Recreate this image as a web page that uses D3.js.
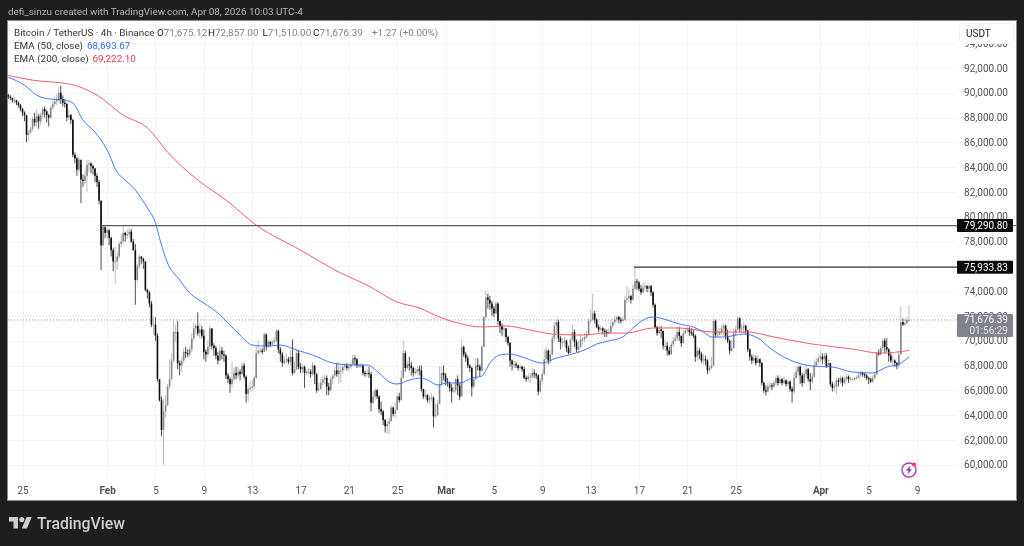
<!DOCTYPE html>
<html><head><meta charset="utf-8">
<script src="https://cdn.jsdelivr.net/npm/d3@7"></script>
<style>
html,body{margin:0;padding:0;background:#1e1e1e;overflow:hidden}
svg{display:block;filter:blur(.35px)}
text{font-family:Roboto,"Open Sans",sans-serif}
</style></head><body><svg id="c" width="1024" height="546"></svg>
<script>
// Candle values in thousands of USDT, one per 4h bar
const firstOpen = 89.8;
const closes = [
89.68,89.6,89.4,89.4,89.2,89.0,88.7,88.4,88.2,86.6,
86.8,87.1,87.9,87.6,88.1,87.7,88.2,88.7,88.5,88.2,
88.0,88.8,89.1,89.3,89.4,90.0,89.5,89.2,89.1,88.0,
88.2,87.8,85.0,84.7,83.8,84.6,83.0,82.9,83.3,84.2,
84.3,84.1,83.9,83.3,82.8,81.3,77.7,79.2,78.7,78.9,
78.3,77.3,76.4,76.4,76.8,77.8,78.0,78.7,78.5,78.6,
78.8,78.0,77.3,74.9,76.0,76.8,76.6,76.4,74.1,73.9,
73.0,71.3,71.3,70.4,66.9,65.2,62.8,64.3,64.8,66.3,
66.9,68.4,70.7,70.7,68.2,68.0,68.4,69.1,69.0,68.9,
69.3,70.2,71.0,71.2,70.6,70.9,70.4,69.1,68.9,69.5,
71.0,69.6,69.4,68.8,68.4,69.2,68.9,68.8,67.2,66.9,
66.5,66.9,67.4,67.2,67.5,67.3,68.0,67.1,65.7,66.1,
66.2,66.3,67.0,69.0,69.2,69.2,69.1,70.5,69.5,69.9,
69.7,69.9,70.0,70.8,69.3,68.9,68.2,68.4,68.5,68.3,
68.7,67.4,67.7,69.0,67.9,67.7,67.9,67.4,67.5,67.5,
67.3,68.0,67.3,66.0,66.1,66.6,66.9,67.0,66.3,66.0,
66.9,67.2,67.6,67.3,67.6,67.6,67.9,68.0,67.8,67.9,
68.1,68.6,68.5,68.0,68.0,68.0,67.4,67.3,67.4,67.3,
65.0,65.5,66.0,65.5,64.5,64.3,63.6,63.1,63.3,63.5,
64.6,64.1,64.4,65.5,65.2,67.0,69.0,67.8,68.1,68.0,
67.8,67.4,67.5,67.7,67.6,66.1,65.5,65.6,65.2,65.4,
65.4,63.9,64.0,64.9,66.5,67.4,67.2,66.7,66.6,66.2,
65.9,66.0,66.9,66.4,65.5,69.5,68.9,68.6,68.0,67.8,
66.3,66.9,68.0,67.9,67.6,69.5,71.9,73.5,73.3,73.0,
72.6,72.2,73.0,71.6,71.2,70.9,71.0,70.3,69.8,68.4,
68.1,68.1,68.0,67.8,67.9,67.7,67.0,66.9,67.1,67.1,
67.4,67.3,67.2,65.9,66.8,67.3,68.5,69.2,68.4,68.9,
70.2,71.2,71.5,70.2,69.9,69.9,70.0,69.4,69.0,70.1,
70.7,69.9,69.3,69.5,70.1,70.1,70.3,70.5,71.6,71.7,
72.2,71.7,71.1,70.9,71.0,70.8,70.7,70.6,70.7,71.2,
71.5,71.7,71.9,71.7,71.6,71.7,73.3,73.4,73.6,73.3,
74.2,74.8,74.7,74.2,73.9,74.3,74.4,74.2,74.4,73.9,
72.9,71.1,70.6,70.9,70.8,69.6,69.6,69.2,68.9,69.7,
70.0,70.2,70.7,70.4,69.8,70.6,70.8,70.9,70.7,70.6,
70.4,68.7,69.2,68.9,68.4,68.5,68.4,67.6,67.8,68.0,
71.6,70.5,70.5,70.7,71.0,71.2,70.4,70.0,69.2,69.4,
70.6,70.9,71.8,71.0,71.0,71.2,70.8,69.3,68.7,68.4,
68.6,68.2,68.5,68.2,66.6,66.0,65.9,66.3,66.4,66.3,
66.6,67.0,66.6,66.9,66.6,66.8,66.5,66.7,66.1,65.9,
67.0,67.5,67.9,67.2,66.6,67.3,67.7,66.9,66.7,67.1,
68.0,68.3,68.6,68.7,68.5,68.8,67.9,68.2,66.5,66.2,
66.3,66.8,66.7,67.0,66.6,66.9,67.1,66.9,66.9,66.9,
67.0,67.0,67.2,67.4,67.3,67.2,67.0,66.9,66.7,67.0,
67.3,69.0,68.9,69.4,70.0,69.5,69.3,68.8,68.4,68.4,
68.2,68.0,68.9,71.5,71.3,71.4,71.675,71.676];
const highs = [
89.9,89.8,89.6,89.6,89.4,89.3,89.1,88.8,88.5,88.2,
87.0,87.3,88.0,88.4,88.6,88.3,88.4,88.9,88.9,88.6,
88.3,89.0,89.4,89.7,89.9,90.5,90.6,89.8,89.5,89.2,
88.6,88.3,87.9,85.2,84.8,84.8,84.2,83.4,83.8,84.6,
84.6,84.4,84.2,83.9,83.5,82.96,81.3,79.3,79.0,79.1,
79.0,78.4,77.5,77.6,77.1,78.0,78.6,79.2,78.8,79.0,
79.1,79.0,78.2,77.8,76.2,77.0,76.8,76.7,76.2,74.2,
74.0,73.2,71.9,71.9,70.6,66.9,65.5,65.3,65.6,66.5,
68.5,69.0,71.7,71.3,71.6,68.4,68.7,69.4,69.5,69.3,
69.6,70.6,71.5,71.4,72.3,71.4,71.2,70.9,69.3,70.0,
71.2,70.9,69.8,69.6,69.1,69.6,69.5,69.2,68.9,67.4,
67.1,68.3,67.8,67.9,67.9,67.7,68.3,68.2,67.2,66.4,
66.7,66.8,67.2,69.6,70.0,69.4,69.4,70.7,70.6,70.1,
70.0,70.1,70.3,70.9,70.9,69.5,69.1,68.7,69.0,68.7,
69.2,70.1,68.3,69.3,69.2,68.2,68.1,68.0,67.7,67.8,
67.7,68.3,68.0,67.4,66.6,66.9,67.2,67.3,67.2,66.6,
67.1,67.3,67.9,68.2,68.3,68.0,68.2,68.2,68.2,68.1,
68.3,68.9,68.8,68.6,68.2,68.2,68.1,67.6,67.7,67.9,
67.5,65.9,66.2,66.1,65.6,65.1,64.4,63.7,63.5,63.8,
64.8,64.7,65.0,65.6,65.8,67.6,70.0,69.2,68.4,68.7,
68.3,67.9,67.8,67.9,68.0,68.0,66.1,66.0,65.7,65.6,
65.8,65.5,64.9,65.2,67.9,67.9,68.0,67.4,67.0,66.7,
66.5,66.3,67.0,67.2,66.6,70.1,69.6,69.1,68.8,68.1,
67.9,67.1,68.6,68.6,68.1,69.7,72.0,74.0,73.8,73.6,
73.2,72.8,73.2,73.1,71.6,71.4,71.2,71.0,70.4,69.9,
68.5,68.4,68.3,68.1,68.1,68.0,67.9,67.2,67.3,67.4,
67.8,67.7,67.4,67.3,67.0,67.6,69.3,69.5,69.3,69.2,
70.4,71.5,71.7,71.7,70.4,70.2,70.3,70.1,69.6,70.2,
71.3,70.9,70.1,70.0,70.5,70.3,70.6,70.8,71.8,72.5,
73.8,72.4,71.8,71.3,71.2,71.1,71.0,70.9,71.0,71.5,
71.8,72.0,72.0,72.0,71.9,71.9,73.6,74.4,74.2,73.7,
74.5,75.93,75.0,74.8,74.5,74.7,74.7,74.5,74.6,74.5,
74.0,73.0,71.2,71.2,71.2,70.8,70.1,69.9,69.5,69.9,
70.3,70.5,71.1,71.1,70.4,70.9,71.0,71.1,71.1,71.0,
70.9,70.5,69.5,69.4,69.1,68.9,68.8,68.5,68.0,68.7,
71.8,71.7,70.9,71.0,71.3,71.4,71.3,70.9,70.1,70.1,
71.0,71.2,72.0,71.9,71.4,71.5,71.3,70.9,69.4,68.9,
68.9,68.8,68.8,68.6,68.3,66.7,66.4,66.6,66.7,66.6,
66.8,67.2,67.2,67.1,67.0,67.1,66.9,66.9,66.8,66.3,
67.4,67.9,68.0,68.0,67.4,67.6,68.1,67.8,67.4,67.4,
68.4,68.6,68.9,69.2,69.0,69.0,69.0,68.5,68.2,66.7,
66.6,67.0,67.0,67.2,67.1,67.1,67.3,67.2,67.1,67.0,
67.1,67.2,67.4,67.6,67.5,67.4,67.3,67.1,67.0,67.2,
67.5,69.1,69.3,69.6,70.2,70.2,70.2,69.4,69.0,68.8,
68.5,68.3,69.2,72.74,71.8,71.8,71.9,72.857];
const lows = [
89.5,89.4,89.2,89.1,89.0,88.8,88.5,88.1,87.7,86.0,
86.1,86.7,86.9,87.3,87.2,87.1,87.4,87.9,88.0,87.6,
87.3,87.9,88.6,88.9,89.0,89.2,89.1,88.9,88.8,87.7,
87.8,87.5,84.8,84.3,83.3,83.6,81.1,82.4,82.6,82.0,
83.6,83.5,83.4,82.8,82.4,81.0,75.7,77.6,78.3,78.2,
77.7,76.8,75.6,74.6,75.7,76.6,77.5,77.9,78.0,78.2,
78.3,77.9,77.3,72.9,74.7,75.8,76.2,75.8,74.0,73.4,
72.7,71.1,70.5,70.0,66.7,65.1,62.3,60.0,63.8,64.7,
66.1,66.8,68.3,69.9,67.7,67.2,67.5,68.2,68.6,68.7,
68.7,69.1,70.0,70.5,70.4,70.2,70.2,68.5,68.3,68.7,
69.2,69.3,68.8,68.5,68.1,68.4,68.5,68.3,66.9,66.6,
65.8,66.2,66.7,66.9,67.0,66.8,67.3,66.9,65.0,65.1,
65.9,66.0,66.1,66.9,68.8,69.0,68.9,69.1,69.2,69.4,
69.5,69.6,69.7,69.9,69.0,68.3,67.9,68.1,68.2,68.1,
68.0,67.2,67.3,67.6,67.7,67.4,67.4,66.2,67.2,67.3,
67.0,67.2,66.5,65.8,65.9,66.0,66.4,66.5,65.6,65.6,
65.9,66.5,67.0,67.1,66.5,66.6,67.3,67.6,67.6,67.5,
67.7,68.0,68.0,67.8,67.8,67.8,67.2,67.1,67.1,67.0,
64.3,64.9,65.2,65.3,64.2,64.0,63.2,62.6,62.5,62.5,
63.5,63.9,63.8,64.4,65.0,65.2,67.0,67.5,67.7,67.6,
67.2,67.1,67.2,67.3,67.2,65.9,65.3,65.3,65.0,64.9,
65.1,63.0,63.8,63.9,64.9,66.3,66.8,66.4,66.3,65.9,
65.0,65.7,65.8,65.6,65.2,65.6,68.7,68.3,67.8,67.5,
65.5,66.1,66.8,67.6,67.1,67.5,69.5,71.8,72.6,72.5,
72.0,71.9,72.2,71.3,70.6,70.4,70.3,69.9,69.6,67.9,
67.6,67.8,67.8,67.6,67.7,67.5,66.9,66.7,66.7,66.6,
66.9,67.0,66.9,65.6,65.8,66.5,67.2,68.4,68.1,68.2,
68.8,70.0,70.6,69.9,69.3,69.5,69.6,69.1,68.9,69.0,
70.0,69.5,69.1,69.0,69.4,69.7,69.9,70.2,70.4,71.4,
71.6,71.4,71.0,70.7,70.8,70.5,70.3,70.3,70.5,70.6,
71.0,71.3,71.5,71.4,71.4,71.5,71.6,73.0,73.1,73.0,
73.2,74.1,74.1,74.0,73.7,73.8,74.0,73.9,73.9,73.6,
72.7,71.0,70.4,70.5,70.2,69.3,69.2,68.8,68.8,68.9,
69.5,69.9,70.0,70.0,69.5,69.8,70.5,70.6,70.4,70.4,
70.2,68.3,68.4,68.5,68.2,68.1,68.0,67.3,67.4,67.7,
67.9,70.3,70.2,70.4,70.5,70.4,70.1,69.8,68.9,69.1,
69.4,70.4,70.8,70.7,70.6,70.6,70.5,69.1,68.4,68.1,
68.2,68.0,68.2,67.9,66.4,65.8,65.6,65.8,66.1,66.0,
66.2,66.4,66.4,66.5,66.4,66.5,66.3,66.3,65.9,65.0,
65.7,66.9,67.2,66.5,66.3,66.5,67.0,66.7,66.0,66.5,
67.0,67.9,68.1,68.3,68.1,68.1,67.8,67.9,66.3,65.9,
65.9,65.7,66.3,66.5,66.3,66.5,66.7,66.6,66.8,66.8,
66.8,66.9,67.0,67.1,67.1,67.0,66.8,66.5,66.6,66.6,
66.9,67.2,68.8,68.8,69.2,69.0,69.1,68.3,68.2,68.0,
67.9,67.7,67.8,68.9,71.2,71.2,71.5,71.51];
// EMA readings: bar number, value in thousands
const ema50Bars = [0,8,14,21,28,32,37,43,49,54,58,63,69,73,75,79,85,90,97,104,109,115,121,128,135,143,151,161,171,178,184,189,193,199,205,209,213,218,224,230,235,239,244,249,255,265,272,280,287,292,298,305,310,316,320,327,333,340,345,349,355,365,372,378,388,399,409,419,429,436,442,447];
const ema50Vals = [91.24,90.62,89.81,89.49,89.41,89.17,87.8,86.83,85.38,83.6,82.96,82.15,80.7,79.49,78.28,76.27,74.9,73.85,73.04,72.23,71.43,70.46,69.65,69.57,69.65,69.25,68.85,68.2,68.04,68.04,67.4,66.67,66.51,66.83,66.99,66.75,66.43,66.59,66.59,66.99,67.15,68.2,68.85,68.93,68.69,68.2,68.6,68.93,69.33,69.73,69.98,70.3,71.03,71.75,71.91,71.67,71.35,71.1,70.7,70.3,70.3,70.54,70.22,69.41,68.44,67.96,67.88,67.48,67.4,67.88,68.12,68.69];
const ema200Bars = [0,12,31,44,57,69,79,94,108,123,145,165,178,193,204,214,223,235,247,259,270,284,297,307,320,333,350,367,380,399,419,433,447];
const ema200Vals = [91.4,91.02,90.68,89.81,88.2,87.16,85.22,82.96,81.35,79.33,77.31,75.46,74.49,73.12,72.64,71.91,71.43,71.11,71.19,70.86,70.54,70.46,70.62,70.62,71.03,71.03,70.7,70.7,70.3,69.73,69.33,69.0,69.22];
const priceTicks = [60,62,64,66,68,70,72,74,76,78,80,82,84,86,88,90,92,94];
const resistanceLevels = [79.2908, 75.93383];
const lastPrice = 71.67639;
const xTickDates = ["2026-01-25","2026-02-01","2026-02-05","2026-02-09","2026-02-13","2026-02-17","2026-02-21","2026-02-25","2026-03-01","2026-03-05","2026-03-09","2026-03-13","2026-03-17","2026-03-21","2026-03-25","2026-04-01","2026-04-05","2026-04-09"];
const xTickLabels = ["25","Feb","5","9","13","17","21","25","Mar","5","9","13","17","21","25","Apr","5","9"];
const firstBar = Date.UTC(2026,0,23,20);
const barMs = 4*3600*1000;

const svg = d3.select("#c");
const W = {l:8,r:1016,t:20.5,b:500,pane:957,gridB:479};
const FS = 9.9, FSA = 10;
const x = d3.scaleUtc().domain([Date.UTC(2026,0,25),Date.UTC(2026,3,9)]).range([22.5,917]);
const y = d3.scaleLinear().domain([60,92]).range([464.7,68]);
const bx = i => x(firstBar+i*barMs);
const fmt = d3.format(",.2f");

svg.append("rect").attr("x",W.l-.5).attr("y",W.t).attr("width",W.r-W.l+1).attr("height",W.b-W.t+.5)
  .attr("fill","#fff").attr("stroke","#8a8a8a");
svg.append("text").attr("x",8).attr("y",15).attr("fill","#b4b4b4").attr("font-size",FS)
  .text("defi_sinzu created with TradingView.com, Apr 08, 2026 10:03 UTC-4");

// grid
const grid = svg.append("g").attr("stroke","#f2f3f5").attr("stroke-width",1);
grid.selectAll("line.h").data(priceTicks).join("line").attr("class","h")
  .attr("x1",W.l).attr("x2",W.pane).attr("y1",d=>Math.round(y(d))+.5).attr("y2",d=>Math.round(y(d))+.5);
grid.selectAll("line.v").data(xTickDates).join("line").attr("class","v")
  .attr("x1",d=>Math.round(x(new Date(d)))+.5).attr("x2",d=>Math.round(x(new Date(d)))+.5)
  .attr("y1",W.t+1).attr("y2",W.gridB);

// axes
const yAxis = d3.axisRight(y).tickValues(priceTicks).tickSize(0).tickPadding(0).tickFormat(d=>fmt(d*1000));
const yg = svg.append("g").attr("transform",`translate(1008,0)`).call(yAxis);
yg.select(".domain").remove();
yg.selectAll("text").attr("text-anchor","end").attr("fill","#4c4e58").attr("font-size",FSA).attr("font-family","Roboto,sans-serif");
const xAxis = d3.axisBottom(x).tickValues(xTickDates.map(d=>new Date(d))).tickSize(0).tickPadding(0)
  .tickFormat((d,i)=>xTickLabels[i]);
const xg = svg.append("g").attr("transform",`translate(0,487)`).call(xAxis);
xg.select(".domain").remove();
xg.selectAll("text").attr("fill","#4c4e58").attr("font-size",FSA).attr("font-family","Roboto,sans-serif")
  .attr("font-weight",(d,i)=>/[A-Z]/.test(xTickLabels[i])?700:400);

// last-price dotted line
svg.append("line").attr("x1",W.l).attr("x2",W.pane).attr("y1",y(lastPrice)).attr("y2",y(lastPrice))
  .attr("stroke","#9a9aa0").attr("stroke-width",1).attr("stroke-dasharray","1 2");

// candles
const bars = closes.map((c,i)=>({i,o:i?closes[i-1]:firstOpen,c,h:highs[i],l:lows[i]}));
const marks = svg.append("g").attr("class","marks");
marks.selectAll("line.w").data(bars).join("line").attr("class","w")
  .attr("x1",d=>bx(d.i)).attr("x2",d=>bx(d.i)).attr("y1",d=>y(d.h)).attr("y2",d=>y(d.l))
  .attr("stroke",d=>d.c>=d.o?"#b4b4ba":"#3a3a3a").attr("stroke-width",.9);
marks.selectAll("rect.b").data(bars).join("rect").attr("class","b")
  .attr("x",d=>bx(d.i)-.8).attr("width",1.6)
  .attr("y",d=>y(Math.max(d.o,d.c))).attr("height",d=>Math.max(1,Math.abs(y(d.o)-y(d.c))))
  .attr("fill",d=>d.c>=d.o?"#85858c":"#0c0c0c");

// EMAs
const line = d3.line().x(d=>bx(d[0])).y(d=>y(d[1])).curve(d3.curveMonotoneX);
svg.append("path").attr("d",line(d3.zip(ema200Bars,ema200Vals))).attr("fill","none").attr("stroke","#f7525f").attr("stroke-opacity",.95).attr("stroke-width",1);
svg.append("path").attr("d",line(d3.zip(ema50Bars,ema50Vals))).attr("fill","none").attr("stroke","#2f6bff").attr("stroke-opacity",.9).attr("stroke-width",1);

// horizontal levels
[[101,resistanceLevels[0],"#5c5c5c"],[634,resistanceLevels[1],"#333"]].forEach(([a,v,col])=>{
  svg.append("line").attr("x1",a).attr("x2",W.pane).attr("y1",y(v)).attr("y2",y(v)).attr("stroke",col).attr("stroke-width",1.2);
});
svg.append("line").attr("x1",W.pane).attr("x2",W.r).attr("y1",y(resistanceLevels[0])).attr("y2",y(resistanceLevels[0])).attr("stroke","#5c5c5c");
resistanceLevels.forEach(v=>{
  svg.append("rect").attr("x",957).attr("y",y(v)-6.5).attr("width",56).attr("height",13).attr("rx",1).attr("fill","#0b0b0b");
  svg.append("text").attr("x",1008).attr("y",y(v)+3.5).attr("text-anchor","end").attr("fill","#fff").attr("font-size",FSA).text(fmt(v*1000));
});
// last price tag
svg.append("rect").attr("x",957).attr("y",y(lastPrice)-6).attr("width",56).attr("height",23).attr("rx",1).attr("fill","#80828c");
svg.append("text").attr("x",1008).attr("y",y(lastPrice)+3.5).attr("text-anchor","end").attr("fill","#fff").attr("font-size",FSA).text(fmt(lastPrice*1000));
svg.append("text").attr("x",1008).attr("y",y(lastPrice)+14.5).attr("text-anchor","end").attr("fill","#e4e4e8").attr("font-size",FSA).text("01:56:29");

// unit box
svg.append("rect").attr("x",959.5).attr("y",23.5).attr("width",54).attr("height",20).attr("rx",3).attr("fill","#fff").attr("stroke","#f0f1f3");
svg.append("text").attr("x",966).attr("y",36.5).attr("fill","#222").attr("font-size",FSA).text("USDT");

// legend
const lg = svg.append("g").attr("font-size",FS);
const row1 = lg.append("text").attr("x",14).attr("y",35.5);
row1.append("tspan").attr("fill","#333").text("Bitcoin / TetherUS · 4h · Binance");
[["O","71,675.12",157],["H","72,857.00",208],["L","71,510.00",262.5],["C","71,676.39",313]].forEach(([k,v,px])=>{
  const t = lg.append("text").attr("x",px).attr("y",35.5);
  t.append("tspan").attr("fill","#222").text(k);
  t.append("tspan").attr("fill","#808088").text(v);
});
lg.append("text").attr("x",372).attr("y",35.5).attr("fill","#808088").text("+1.27 (+0.00%)");
lg.append("text").attr("x",14).attr("y",48.5).attr("fill","#333").text("EMA (50, close)");
lg.append("text").attr("x",87).attr("y",48.5).attr("fill","#2f6bff").text("68,693.67");
lg.append("text").attr("x",14).attr("y",61.5).attr("fill","#333").text("EMA (200, close)");
lg.append("text").attr("x",92.5).attr("y",61.5).attr("fill","#f23645").text("69,222.10");

// bolt badge
const badge = svg.append("g").attr("transform","translate(909,470)");
badge.append("circle").attr("r",7).attr("fill","#fff").attr("stroke","#a63cc4").attr("stroke-width",1.4);
badge.append("path").attr("d","M1.5-4.5L-3 .5H-.5L-1.5 4.5L3-.8H.5Z").attr("fill","#8e30b0");
badge.append("circle").attr("cx",5).attr("cy",-5.4).attr("r",2).attr("fill","#f23645");

// brand
const brand = svg.append("g").attr("transform","translate(9,514.5) scale(.64)").attr("fill","#cfcfcf");
brand.append("path").attr("d","M14 22H7V11H0V4h14v18zM28 22h-8l7.5-18h8L28 22z");
brand.append("circle").attr("cx",20).attr("cy",8).attr("r",4);
svg.append("text").attr("x",37).attr("y",529).attr("fill","#cfcfcf").attr("font-size",15.8).attr("font-weight",500).text("TradingView");
</script></body></html>
